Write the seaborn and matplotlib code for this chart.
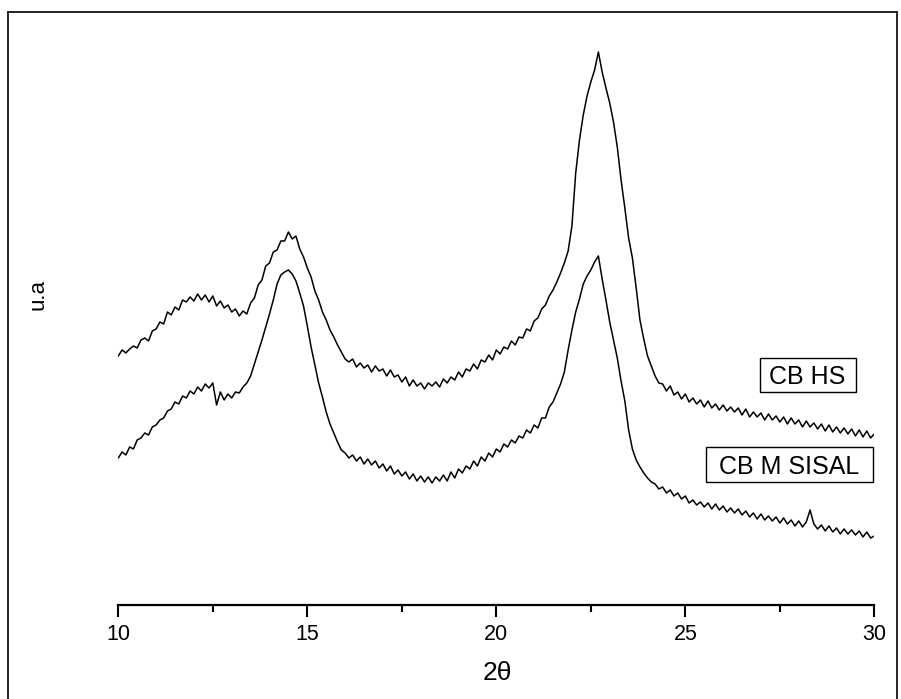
import numpy as np
import pandas as pd
import matplotlib
matplotlib.use("Agg")
import matplotlib.pyplot as plt
from matplotlib.lines import Line2D
from matplotlib.patches import Rectangle
import seaborn as sns

# 2-theta grid (degrees)
two_theta = [round(10 + 0.1 * i, 1) for i in range(201)]

# CB HS intensity (arbitrary units)
cb_hs = [
    284, 290, 287, 291, 294, 292, 300, 302, 299, 309,
    311, 318, 316, 328, 325, 333, 330, 340, 338, 343,
    339, 346, 340, 345, 338, 344, 334, 339, 332, 335,
    328, 331, 324, 329, 326, 337, 342, 355, 360, 374,
    377, 388, 390, 399, 399, 408, 401, 404, 391, 383,
    372, 363, 349, 340, 328, 320, 310, 303, 295, 288,
    281, 278, 281, 273, 277, 272, 275, 268, 274, 269,
    271, 264, 270, 263, 265, 258, 263, 254, 260, 254,
    257, 251, 257, 254, 258, 253, 261, 257, 263, 260,
    268, 263, 271, 269, 276, 271, 280, 278, 285, 280,
    290, 286, 293, 291, 299, 295, 303, 302, 311, 309,
    319, 322, 331, 335, 344, 350, 358, 367, 377, 389,
    414, 467, 500, 525, 544, 558, 570, 588, 568, 552,
    537, 518, 493, 460, 432, 402, 382, 352, 320, 301,
    284, 274, 264, 257, 256, 249, 254, 245, 248, 241,
    246, 238, 242, 236, 240, 233, 239, 232, 236, 230,
    235, 229, 233, 228, 232, 225, 231, 223, 228, 223,
    227, 220, 226, 220, 224, 218, 223, 216, 222, 216,
    220, 213, 219, 213, 217, 211, 216, 209, 215, 208,
    213, 207, 212, 206, 211, 204, 210, 203, 209, 202,
    206,
]

# CB M SISAL intensity (arbitrary units)
cb_m_sisal = [
    182, 188, 185, 193, 191, 200, 202, 207, 205, 213,
    215, 220, 222, 229, 231, 238, 236, 244, 242, 249,
    246, 253, 249, 256, 252, 257, 235, 248, 240, 246,
    242, 248, 247, 253, 257, 264, 276, 288, 300, 313,
    326, 340, 356, 365, 368, 370, 366, 359, 347, 334,
    314, 293, 275, 257, 243, 228, 216, 207, 198, 190,
    187, 182, 185, 179, 183, 176, 181, 175, 179, 172,
    176, 169, 174, 166, 170, 164, 168, 161, 166, 159,
    164, 158, 163, 157, 163, 159, 165, 159, 168, 162,
    171, 167, 174, 171, 179, 174, 183, 179, 187, 183,
    191, 188, 196, 193, 200, 197, 204, 202, 210, 207,
    215, 212, 222, 222, 233, 238, 247, 256, 268, 290,
    310, 328, 341, 356, 364, 370, 378, 384, 361, 340,
    318, 300, 282, 259, 239, 210, 191, 180, 173, 167,
    162, 158, 156, 151, 153, 147, 150, 144, 147, 141,
    144, 137, 140, 135, 138, 133, 137, 131, 136, 130,
    134, 128, 132, 127, 131, 125, 129, 123, 127, 121,
    126, 120, 124, 119, 123, 117, 122, 116, 120, 114,
    119, 113, 118, 130, 116, 111, 115, 109, 114, 108,
    112, 106, 111, 106, 110, 105, 109, 103, 108, 102,
    104,
]

series_names = ["CB HS", "CB M SISAL"]
x_ticks = [10, 15, 20, 25, 30]

df = pd.DataFrame({
    "two_theta": two_theta * 2,
    "intensity": cb_hs + cb_m_sisal,
    "sample": [series_names[0]] * len(cb_hs) + [series_names[1]] * len(cb_m_sisal),
})

sns.set_style("white")
plt.rcParams["font.family"] = ["Liberation Sans", "DejaVu Sans"]
plt.rcParams["text.color"] = "black"
plt.rcParams["axes.labelcolor"] = "black"
plt.rcParams["xtick.color"] = "black"

fig = plt.figure(figsize=(9.01, 6.99), dpi=100)
ax = fig.add_axes([0.1313, 0.1345, 0.8391, 0.8369])

sns.lineplot(data=df, x="two_theta", y="intensity", units="sample",
             estimator=None, sort=False, color="black", linewidth=1.1,
             ax=ax, legend=False)

ax.set_xlim(10, 30)
ax.set_ylim(35, 620)
ax.set_xticks(x_ticks)
ax.set_xticks([12.5, 17.5, 22.5, 27.5], minor=True)
ax.set_yticks([])
for s in ["left", "top", "right"]:
    ax.spines[s].set_visible(False)
ax.spines["bottom"].set_linewidth(1.6)
ax.spines["bottom"].set_color("black")
ax.tick_params(axis="x", which="major", direction="out", length=8.5, width=1.5,
               colors="black", labelcolor="black", labelsize=15.5, pad=5, bottom=True)
ax.tick_params(axis="x", which="minor", direction="out", length=5, width=1.5,
               colors="black", bottom=True)

ax.set_xlabel("2θ", fontsize=19, color="black")
ax.xaxis.set_label_coords(0.501, -0.095)
ax.set_ylabel("u.a", fontsize=16, color="black")
ax.yaxis.set_label_coords(-0.092, 0.53)

# sample labels with boxes
ax.text(0.9117, 0.3932, series_names[0], transform=ax.transAxes,
        ha="center", va="center_baseline", fontsize=18, color="black")
ax.add_patch(Rectangle((0.8488, 0.3641), 0.9758 - 0.8488, 0.4222 - 0.3641,
                       transform=ax.transAxes, fill=False, edgecolor="black",
                       linewidth=1.0, clip_on=False))
ax.text(0.8879, 0.2402, series_names[1], transform=ax.transAxes,
        ha="center", va="center_baseline", fontsize=18, color="black")
ax.add_patch(Rectangle((0.7774, 0.2103), 0.9983 - 0.7774, 0.2701 - 0.2103,
                       transform=ax.transAxes, fill=False, edgecolor="black",
                       linewidth=1.0, clip_on=False))

# outer frame
fl, fr, ft = 8 / 901, 897 / 901, 1 - 12 / 699
for xs, ys in [([fl, fr], [ft, ft]), ([fl, fl], [ft, -0.01]), ([fr, fr], [ft, -0.01])]:
    fig.add_artist(Line2D(xs, ys, transform=fig.transFigure, color="black", linewidth=1.2))

fig.savefig("out.png", dpi=100)
